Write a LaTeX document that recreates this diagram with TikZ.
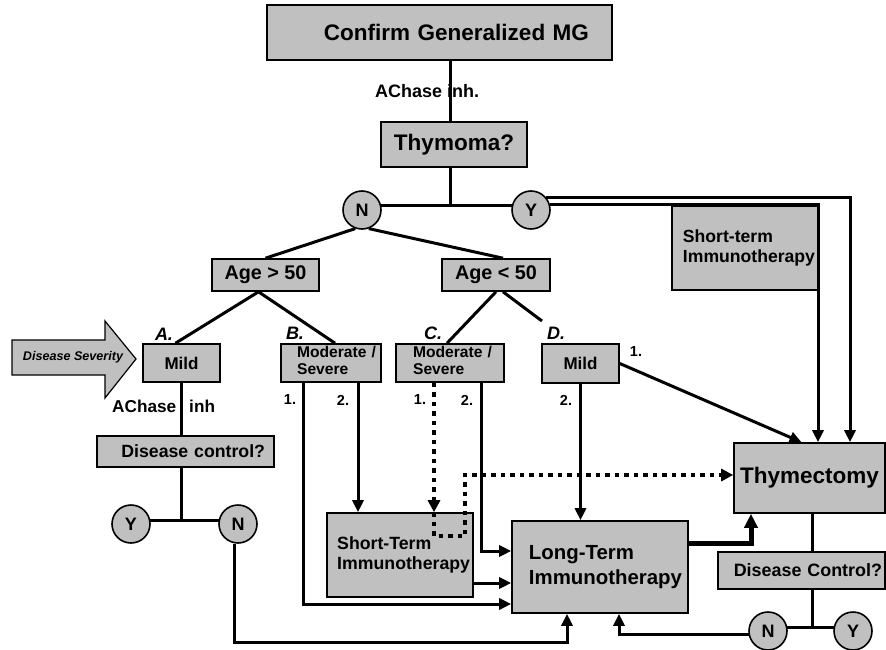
\documentclass[tikz,border=0pt]{standalone}
\usepackage{fontspec}
\setmainfont{Liberation Sans}
\usetikzlibrary{arrows.meta,backgrounds}
\definecolor{boxgray}{RGB}{192,192,192}
\newcommand{\twoline}[2]{\begin{tabular}{@{}l@{}}#1\\#2\end{tabular}}
\newcommand{\fs}[1]{\fontsize{#1}{1.15\dimexpr#1pt\relax}\selectfont\bfseries}
\begin{document}
\begin{tikzpicture}[x=1pt,y=-1pt,
  box/.style={draw,fill=boxgray,line width=1.6pt,inner sep=0pt},
  circ/.style={circle,draw,fill=boxgray,line width=1.6pt,minimum size=38pt,inner sep=0pt,font=\fs{18}},
  conn/.style={line width=3pt},
  arr/.style={conn,-{Triangle[length=12pt,width=11pt]}},
  dots/.style={line width=4.5pt,dash pattern=on 4.5pt off 5pt,-{Triangle[length=12pt,width=12pt]}},
  tag/.style={inner sep=0pt,font=\fs{18}\itshape},
  num/.style={inner sep=0pt,font=\fs{14.5}},
  note/.style={inner sep=0pt,anchor=west},
]
\useasboundingbox (0,0) rectangle (886,650);

% boxes
\node[box,minimum width=345pt,minimum height=55pt,text width=299pt,inner xsep=23pt,align=right,font=\fs{22.5}] (confirm) at (439.5,32.5) {Confirm Generalized MG};
\node[box,minimum width=146pt,minimum height=45pt,font=\fs{22.5}] (thymoma) at (454,144.5) {Thymoma?};
\node[box,minimum width=107pt,minimum height=32pt,font=\fs{19.8}] (age1) at (265.5,275) {Age > 50};
\node[box,minimum width=108pt,minimum height=32pt,font=\fs{19.8}] (age2) at (496,275) {Age < 50};
\node[box,minimum width=77pt,minimum height=38pt,font=\fs{17}] (mildA) at (181.5,363) {Mild};
\node[box,minimum width=100pt,minimum height=38pt,text width=90pt,inner xsep=5pt,align=right,font={\fontsize{15.6}{17}\selectfont\bfseries}] (modB) at (331,363) {\twoline{Moderate /}{Severe}};
\node[box,minimum width=108pt,minimum height=38pt,text width=84pt,inner xsep=12pt,align=right,font={\fontsize{15.6}{17}\selectfont\bfseries}] (modC) at (450,363) {\twoline{Moderate /}{Severe}};
\node[box,minimum width=77pt,minimum height=39pt,font=\fs{17}] (mildD) at (580.5,363.5) {Mild};
\node[box,minimum width=146pt,minimum height=84pt,text width=140pt,inner xsep=3pt,align=right,font={\fontsize{17.6}{20}\selectfont\bfseries}] (stTop) at (745,248) {\twoline{Short-term}{Immunotherapy}};
\node[box,minimum width=151pt,minimum height=70pt,font=\fs{22.5}] (thymectomy) at (809.5,478) {Thymectomy};
\node[box,minimum width=177pt,minimum height=31pt,text width=159pt,inner xsep=9pt,align=right,font=\fs{17.7}] (dcA) at (185.5,451.5) {Disease control?};
\node[box,minimum width=167pt,minimum height=37pt,text width=161pt,inner xsep=3pt,align=right,font=\fs{17.9}] (dcD) at (801.5,570.5) {Disease Control?};
\node[box,minimum width=146pt,minimum height=84pt,text width=140pt,inner xsep=3pt,align=right,font={\fontsize{17.7}{20}\selectfont\bfseries}] (stB) at (400,555) {\twoline{Short-Term}{Immunotherapy}};
\node[box,minimum width=176pt,minimum height=92pt,text width=164pt,inner xsep=6pt,align=right,font={\fontsize{20.4}{25}\selectfont\bfseries}] (ltB) at (600,567) {\twoline{Long-Term}{Immunotherapy}};

% yes / no circles
\node[circ] (nT) at (362,210) {N};
\node[circ] (yT) at (531,210) {Y};
\node[circ] (yA) at (131,524) {Y};
\node[circ] (nA) at (238,524) {N};
\node[circ] (nD) at (768,631) {N};
\node[circ] (yD) at (853,631) {Y};

% disease severity pointer
\draw[fill=boxgray,line width=1.2pt] (12,340) -- (105,340) -- (105,321) -- (136,359) -- (105,398) -- (105,375) -- (12,375) -- cycle;
\node[inner sep=0pt,font=\fs{12.6}\itshape] (sev) at (73,357.5) {Disease Severity};

% text labels
\node[note,font=\fs{18}] (achase1) at (375,91) {AChase inh.};
\node[note,font=\fs{17.2}] (achase2) at (112,406) {AChase\hspace{13pt}inh};
\node[tag] (tA) at (164,334) {A.};
\node[tag] (tB) at (295,333) {B.};
\node[tag] (tC) at (433,333) {C.};
\node[tag] (tD) at (556,333) {D.};
\node[num] (b1) at (290,400) {1.};
\node[num] (b2) at (343,400) {2.};
\node[num] (c1) at (420,400) {1.};
\node[num] (c2) at (467,400) {2.};
\node[num] (d2) at (566,400) {2.};
\node[num] (d1) at (636,352) {1.};

% junction points of the yes/no splits
\coordinate (jA) at (181.5,520);
\coordinate (jD) at (812,627);
\coordinate (loopA) at (234,642);
\coordinate (dEnd) at (542,321);

\begin{scope}[on background layer]
  \draw[conn] ([xshift=-4pt]thymoma.north) -- ([xshift=-4pt]thymoma.north |- confirm.south);
  \draw[conn] ([xshift=-4pt]thymoma.south) -- ([xshift=-4pt,yshift=5pt]thymoma.south |- nT.center);
  \draw[conn] ([yshift=5pt]nT.center) -- ([yshift=5pt]yT.center);
  \draw[conn] (nT.250) -- (age1.north);
  \draw[conn] (nT.290) -- ([xshift=7pt]age2.north);
  \draw[conn] ([xshift=-7pt]age1.south) -- ([xshift=-6pt]mildA.north);
  \draw[conn] ([xshift=-7pt]age1.south) -- ([xshift=4pt]modB.north);
  \draw[conn] (age2.south) -- ([xshift=-3pt]modC.north);
  \draw[conn] ([xshift=7pt]age2.south) -- (dEnd);
  % branch A
  \draw[conn] (mildA.south) -- (mildA.south |- dcA.north);
  \draw[conn] (mildA.south |- dcA.south) -- (jA);
  \draw[conn] ([yshift=4pt]yA.center) -- ([yshift=4pt]nA.center);
  \draw[arr] ([xshift=-4pt]nA.south) -- (loopA) -| ([xshift=-33pt]ltB.south);
  % branch B
  \draw[arr] ([xshift=-28pt]modB.south) |- ([yshift=-37pt]ltB.west);
  \draw[arr] ([xshift=27pt]modB.south) -- ([xshift=-42pt]stB.north);
  % branch C
  \draw[arr] ([xshift=31pt]modC.south) |- ([yshift=16pt]ltB.west);
  \draw[arr] ([yshift=-28pt]stB.east) -- ([yshift=-28pt]stB.east -| ltB.west);
  % branch D
  \draw[arr] (mildD.south) -- (mildD.south |- ltB.north);
  \draw[arr] (mildD.east) -- ([xshift=-8pt]thymectomy.north);
  % long-term to thymectomy
  \draw[line width=5pt,-{Triangle[length=14pt,width=13pt]}] ([yshift=24pt]ltB.east) -| ([xshift=-58.5pt]thymectomy.south);
  % after thymectomy
  \draw[conn] ([xshift=2.5pt]thymectomy.south) -- ([xshift=2.5pt]thymectomy.south |- dcD.north);
  \draw[conn] ([xshift=2.5pt]thymectomy.south |- dcD.south) -- (jD);
  \draw[conn] ([yshift=4pt]nD.center) -- ([yshift=4pt]yD.center);
  \draw[arr] (nD.190) -| ([xshift=19pt]ltB.south);
\end{scope}

% thymoma present
\draw[arr] (yT.40) -| ([xshift=40.5pt]thymectomy.north);
\draw[arr] (yT.15) -| ([xshift=8.5pt]thymectomy.north);

% dotted route through short-term immunotherapy
\draw[dots] ([xshift=-16pt]modC.south) -- ([xshift=34pt]stB.north);
\draw[dots] ([xshift=34pt]stB.north) -- ++(0,24) -- ++(31,0) |- ([yshift=3pt]thymectomy.west);
\end{tikzpicture}
\end{document}
